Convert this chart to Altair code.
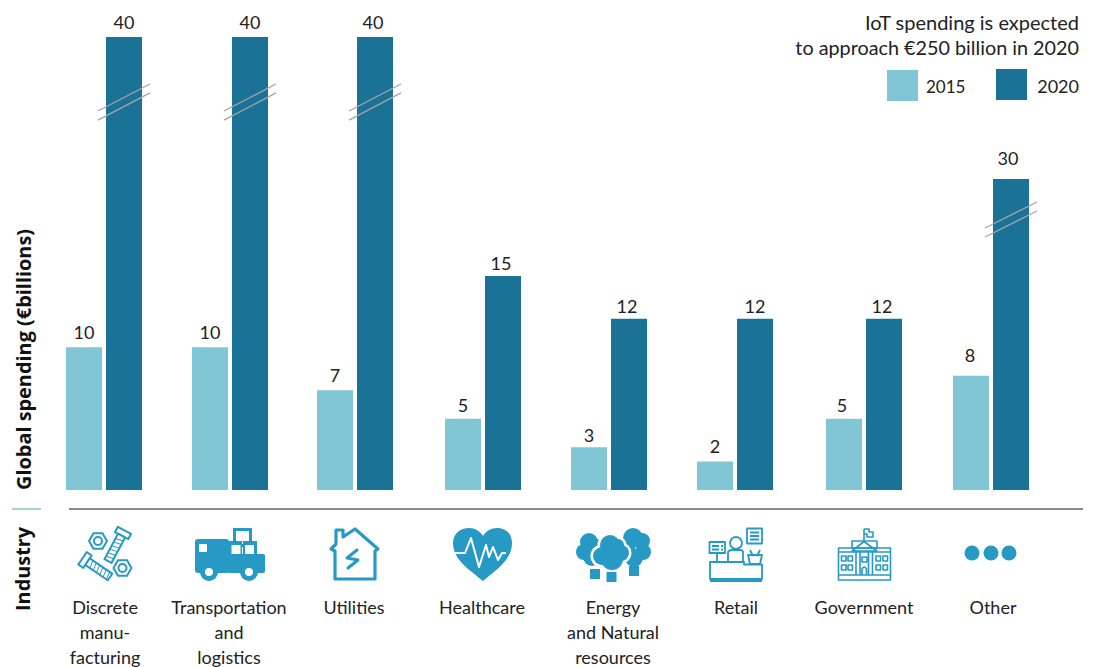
import base64
import math
import altair as alt
import pandas as pd

categories = ["Discrete\nmanu-\nfacturing", "Transportation\nand\nlogistics", "Utilities", "Healthcare",
              "Energy\nand Natural\nresources", "Retail", "Government", "Other"]
values_2015 = [10, 10, 7, 5, 3, 2, 5, 8]
values_2020 = [40, 40, 40, 15, 12, 12, 12, 30]
slots = list(range(8))
break_slots = [0, 1, 2, 7]
break_low_a = [34.15, 34.15, 34.15, 21.03]
break_high_a = [36.06, 36.06, 36.06, 25.05]
break_low_b = [34.79, 34.79, 34.79, 22.42]
break_high_b = [36.69, 36.69, 36.69, 26.44]

FONT = "Lato"
HEAD_FONT = "Open Sans"
INK = "#222222"
LIGHT = "#80c6d4"
DARK = "#1a7296"
ICON = "#2699c4"
GROUP_CENTRES = [96, 222, 347, 475, 601, 727, 856, 983]
LABEL_NUDGE = [1, -1, -1, -1, 4, 1, 0, 2]
VALUE_NUDGE_X = {"v2015": [0, 0, 0, 0, 0, 0, -2, -1], "v2020": [0, 0, -2, -2, -2, 0, -2, -3]}
VALUE_NUDGE_Y = {"v2015": [0, 0, 0, 1, 3, 0, 1, -6], "v2020": [0, 0, 0, 2, 2, 2, 2, -6]}


def svg_uri(centre, body):
    x0 = centre + 8 - 45
    doc = (f'<svg xmlns="http://www.w3.org/2000/svg" width="90" height="70" viewBox="{x0} 520 90 70">'
           f'{body}</svg>')
    return "data:image/svg+xml;base64," + base64.b64encode(doc.encode()).decode()


def bolt(x1, y1, x2, y2):
    ang = math.degrees(math.atan2(y2 - y1, x2 - x1))
    ln = math.hypot(x2 - x1, y2 - y1)
    ticks = "".join(f'<path d="M{d} -4 l1.5 8"/>' for d in range(7, int(ln) - 1, 4))
    return (f'<g transform="translate({x1} {y1}) rotate({ang:.1f})" fill="white" stroke="{ICON}" stroke-width="2" stroke-linejoin="round">'
            f'<rect x="-3" y="-7.5" width="6" height="15"/><rect x="3" y="-4" width="{ln-3:.1f}" height="8"/>'
            f'<g stroke-width="1">{ticks}</g></g>')


def nut(cx, cy):
    r = 9
    pts = " ".join(f"{cx+dx*r:.1f},{cy+dy*r:.1f}" for dx, dy in
                   [(1, 0), (.5, .866), (-.5, .866), (-1, 0), (-.5, -.866), (.5, -.866)])
    return (f'<polygon points="{pts}" fill="none" stroke="{ICON}" stroke-width="2"/>'
            f'<circle cx="{cx}" cy="{cy}" r="4" fill="none" stroke="{ICON}" stroke-width="2"/>')


icon_bolts = bolt(123, 533, 108, 561) + bolt(85, 560, 110, 577) + nut(98, 541) + nut(122.5, 568)

icon_truck = (
    f'<rect x="195" y="539" width="34" height="34" rx="3" fill="{ICON}"/>'
    f'<rect x="227" y="554" width="38" height="19" rx="2" fill="{ICON}"/>'
    f'<rect x="199" y="544" width="8" height="8" rx="1" fill="white"/>'
    f'<rect x="234.5" y="529.5" width="16" height="16" fill="white" stroke="{ICON}" stroke-width="3"/>'
    f'<rect x="228" y="541" width="14" height="14" fill="{ICON}"/>'
    f'<rect x="243" y="541" width="14" height="14" fill="{ICON}"/>'
    f'<rect x="231.5" y="545" width="9" height="9" fill="white"/>'
    f'<rect x="245" y="545" width="9" height="9" fill="white"/>'
    f'<circle cx="209" cy="572" r="9" fill="{ICON}"/><circle cx="209" cy="572" r="4" fill="white"/>'
    f'<circle cx="249" cy="572" r="9" fill="{ICON}"/><circle cx="249" cy="572" r="4" fill="white"/>'
)

icon_house = (
    f'<path d="M331 549 L336 544 L336 530 L343 530 L343 537 L355 529 L378 549 L375 551 L375 579 L335 579 L335 551 Z" '
    f'fill="none" stroke="{ICON}" stroke-width="3.2" stroke-linejoin="round"/>'
    f'<path d="M357 550 L347 558 L358 560 L348 568" fill="none" stroke="{ICON}" stroke-width="3" stroke-linecap="round" stroke-linejoin="round"/>'
)

icon_heart = (
    f'<path d="M483 581 C470 570 453 560 453 543 C453 533 461 528 469 528 C475 528 480 531 483 536 '
    f'C486 531 491 528 497 528 C505 528 512 533 512 543 C512 560 496 570 483 581 Z" fill="{ICON}"/>'
    '<path d="M455 553 L465 553 L471 538 L479 567 L486 545 L489 557 L493 547 L498 560 L502 553 L506 553" '
    'fill="none" stroke="white" stroke-width="2" stroke-linejoin="round"/>'
)


def blobs(items, colour, grow=0):
    return "".join(f'<circle cx="{x}" cy="{y}" r="{r+grow}" fill="{colour}"/>' for x, y, r in items)


middle_tree = [(610, 545, 10), (602, 556, 9), (612, 559, 11), (621, 553, 8), (618, 545, 6)]
icon_trees = (
    blobs([(589, 542, 9), (584, 552, 8), (592, 557, 9), (597, 548, 9)], ICON)
    + blobs([(633, 538, 10), (642, 541, 8), (643, 552, 8), (634, 558, 9), (626, 548, 9)], ICON)
    + blobs(middle_tree, "white", 2.5) + blobs(middle_tree, ICON)
    + f'<rect x="590" y="569" width="10" height="10" fill="{ICON}"/>'
      f'<rect x="606.5" y="572" width="10" height="10" fill="{ICON}"/>'
      f'<rect x="629" y="566" width="10" height="10" fill="{ICON}"/>'
)

icon_retail = (
    f'<g fill="none" stroke="{ICON}" stroke-width="1.8" stroke-linejoin="round">'
    '<path d="M710 562 H744 V564.5 H762 V579 H710 Z"/><path d="M710 581 H762"/>'
    '<circle cx="736" cy="543" r="6"/><path d="M728 561 V552 Q729 550 732 550 H740 Q743 550 743 552 V561"/>'
    '<rect x="709.5" y="542" width="15.5" height="11"/><path d="M717 553 V562"/>'
    '<path d="M712 546 H719 M712 549.5 H719 M721 546 H723 M721 549.5 H723"/>'
    '<rect x="747" y="528.5" width="15" height="15"/><path d="M750 532.5 H759 M750 536 H759 M750 539.5 H759"/>'
    '<path d="M748 555 H762 L760 564 H750 Z"/><path d="M750 550 L753 556 M760 550 L757 556"/></g>'
)

icon_gov = (
    f'<g fill="none" stroke="{ICON}" stroke-width="1.6" stroke-linejoin="round">'
    '<path d="M864 541 V529"/><path d="M864 529 H869 V532 H873 V537 H867 V534 H864"/>'
    '<rect x="838.5" y="548" width="52" height="32"/><path d="M838.5 552 H890.5 M838.5 575 H890.5"/>'
    '<path d="M852 541 H877 V548 H852 Z"/><path d="M852 551 L864 541.5 L877 551 Z"/>'
    '<path d="M856 551 V575 M860 551 V575 M868.5 551 V575 M872.5 551 V575"/>'
    '<path d="M862 575 V569 Q864.3 565 866.5 569 V575"/><rect x="862" y="557" width="5" height="5"/>'
    '<rect x="841.5" y="556" width="4.5" height="5"/><rect x="848" y="556" width="4.5" height="5"/>'
    '<rect x="841.5" y="565" width="4.5" height="5"/><rect x="848" y="565" width="4.5" height="5"/>'
    '<rect x="876" y="556" width="4.5" height="5"/><rect x="883" y="556" width="4.5" height="5"/>'
    '<rect x="876" y="565" width="4.5" height="5"/><rect x="883" y="565" width="4.5" height="5"/></g>'
)

icon_other = "".join(f'<circle cx="{x}" cy="553" r="7.5" fill="{ICON}"/>' for x in (972, 991, 1009))

icons = [icon_bolts, icon_truck, icon_house, icon_heart, icon_trees, icon_retail, icon_gov, icon_other]

x_scale = alt.Scale(domain=slots, range=GROUP_CENTRES, zero=False, nice=False, padding=0)
y_scale = alt.Scale(domain=[0, 15, 30, 40], range=[482, 268, 171, 29], zero=False, nice=False, padding=0)
X = alt.X("slot:Q", scale=x_scale, axis=None)

df = pd.DataFrame({"slot": slots, "v2015": values_2015, "v2020": values_2020,
                   "category": categories,
                   "icon": [svg_uri(c, s) for c, s in zip(GROUP_CENTRES, icons)]})

layers = []
for field, colour, offset in [("v2015", LIGHT, -20), ("v2020", DARK, 20)]:
    Y = alt.Y(f"{field}:Q", scale=y_scale, axis=None, stack=None)
    layers.append(alt.Chart(df).mark_bar(size=36, color=colour, xOffset=offset, orient="vertical").encode(x=X, y=Y))
    for i in slots:
        layers.append(alt.Chart(df.iloc[[i]][["slot", field]]).mark_text(
            font=FONT, fontSize=18, color=INK, baseline="alphabetic",
            xOffset=offset + VALUE_NUDGE_X[field][i], yOffset=-8 + VALUE_NUDGE_Y[field][i]
        ).encode(x=X, y=Y, text=f"{field}:Q"))

for low, high in [(break_low_a, break_high_a), (break_low_b, break_high_b)]:
    bdf = pd.DataFrame({"slot": break_slots, "low": low, "high": high})
    layers.append(alt.Chart(bdf).mark_rule(color="#a6a6a6", strokeWidth=1.3, xOffset=-6, x2Offset=46).encode(
        x=X, x2="slot:Q", y=alt.Y("low:Q", scale=y_scale, axis=None), y2="high:Q"))

# icons and category names
layers.append(alt.Chart(df).mark_image(width=90, height=70).encode(x=X, y=alt.value(547), url="icon:N"))
for i, nudge in enumerate(LABEL_NUDGE):
    layers.append(alt.Chart(df.iloc[[i]][["slot", "category"]]).mark_text(
        font=FONT, fontSize=18, color=INK, baseline="alphabetic", lineBreak="\n", lineHeight=25, xOffset=nudge
    ).encode(x=X, y=alt.value(606), text="category:N"))


def note(text, x, y, **kw):
    return alt.Chart(pd.DataFrame({"t": [text]})).mark_text(baseline="alphabetic", **kw).encode(
        x=alt.value(x), y=alt.value(y), text="t:N")


def hline(x1, x2, y, colour, width):
    return alt.Chart(pd.DataFrame({"a": [0]})).mark_rule(color=colour, strokeWidth=width).encode(
        x=alt.value(x1), x2=alt.value(x2), y=alt.value(y))


layers += [
    hline(61, 1075, 501, "#666666", 1.4),
    hline(4, 33, 501, "#8ec5c0", 1.6),
    note("Global spending (€billions)", 23, 482, font=HEAD_FONT, fontSize=19.9, fontWeight="bold", color="#111111", angle=270, align="left"),
    note("Industry", 22, 603, font=HEAD_FONT, fontSize=19.9, fontWeight="bold", color="#111111", angle=270, align="left"),
    note("IoT spending is expected", 1071, 22, font=FONT, fontSize=20, color=INK, align="right"),
    note("to approach €250 billion in 2020", 1071, 47, font=FONT, fontSize=19.8, color=INK, align="right"),
    note("2015", 918, 85, font=FONT, fontSize=17, color=INK, align="left"),
    note("2020", 1071, 85, font=FONT, fontSize=18, color=INK, align="right"),
    alt.Chart(pd.DataFrame({"a": [0]})).mark_square(size=961, color=LIGHT, opacity=1).encode(x=alt.value(894.5), y=alt.value(77.5)),
    alt.Chart(pd.DataFrame({"a": [0]})).mark_square(size=961, color=DARK, opacity=1).encode(x=alt.value(1003.5), y=alt.value(76.5)),
]

chart = alt.layer(*layers).properties(
    width=1077, height=659, padding=0, autosize=alt.AutoSizeParams(type="none"), background="white"
).configure_view(stroke=None)

chart.save("out.html", embed_options={"renderer": "svg", "actions": False})
